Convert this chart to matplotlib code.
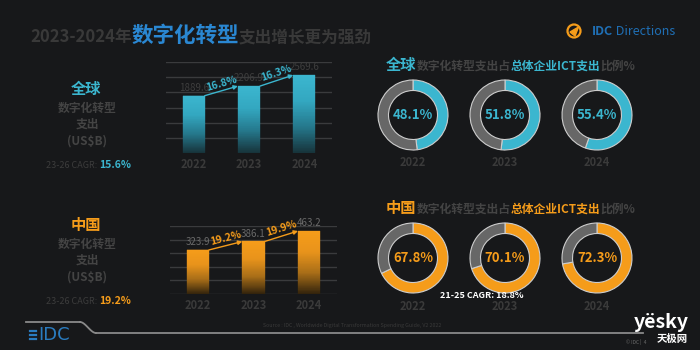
import numpy as np
import matplotlib
matplotlib.use("Agg")
from matplotlib import pyplot as plt
from matplotlib.colors import LinearSegmentedColormap
from matplotlib.patches import Circle, Polygon

plt.rcParams['font.family'] = ['Noto Sans CJK SC', 'DejaVu Sans']

# Datos
years = ['2022', '2023', '2024']
global_spend = [1889.6, 2206.9, 2569.6]
global_growth = [16.8, 16.3]
global_cagr = 15.6
china_spend = [323.9, 386.1, 463.2]
china_growth = [19.2, 19.9]
china_cagr = 19.2
global_share = [48.1, 51.8, 55.4]
china_share = [67.8, 70.1, 72.3]
china_share_cagr = 18.8

W, H = 700, 350
bg = '#17181a'
cyan = '#3bb6cf'
orange = '#f59c1a'
dim = '#444444'
grid_c = '#3a3b3d'

fig = plt.figure(figsize=(W / 100, H / 100), dpi=100, facecolor=bg)

# capa de fondo en pixeles (y hacia arriba)
ov = fig.add_axes([0, 0, 1, 1])
ov.set_facecolor(bg)


def Y(y):
    return H - y


def rect_px(x0, y_top, x1, y_bot):
    return [x0 / W, 1 - y_bot / H, (x1 - x0) / W, (y_bot - y_top) / H]


renderer = fig.canvas.get_renderer()


def seq_text(x, y, parts, **kw):
    # escribe varios trozos de texto seguidos en la misma linea base
    for s, color, size, weight in parts:
        t = ov.text(x, Y(y), s, color=color, fontsize=size, fontweight=weight,
                    ha='left', va='baseline', **kw)
        bb = t.get_window_extent(renderer)
        x += bb.width


# titulo
seq_text(30, 42, [('2023-2024年', '#393939', 12, 'bold'),
                  ('数字化转型', '#2a87d2', 15.5, 'bold'),
                  ('支出增长更为强劲', '#393939', 12, 'bold')])

# logo IDC Directions
ov.add_patch(Circle((574, Y(31)), 6.5, fill=False, ec=orange, lw=1.6))
ov.add_patch(Polygon([(570, Y(32)), (578.5, Y(27)), (575, Y(36))], closed=True, color=orange))
seq_text(592, 35, [('IDC', '#1f6fb5', 9, 'bold'), (' Directions', '#1f6fb5', 9, 'normal')])

# textos de la izquierda
for y0, name, col, cagr in [(89, '全球', cyan, global_cagr), (225, '中国', orange, china_cagr)]:
    ov.text(86, Y(y0), name, color=col, fontsize=11, fontweight='bold', ha='center', va='center')
    ov.text(87, Y(y0 + 19), '数字化转型', color=dim, fontsize=8.5, fontweight='bold', ha='center', va='center')
    ov.text(87, Y(y0 + 35), '支出', color=dim, fontsize=8.5, fontweight='bold', ha='center', va='center')
    ov.text(87, Y(y0 + 52), '(US$B)', color=dim, fontsize=8.5, fontweight='bold', ha='center', va='center')
    seq_text(46, y0 + 79, [('23-26 CAGR: ', '#3c3c3c', 6.5, 'normal'),
                           (f'{cagr}%', col, 7.5, 'bold')])


def draw_bars(rect, values, growth, colors, ymax, step, zero_line, val_color):
    ax = fig.add_axes(rect)
    ax.set_facecolor('none')
    x = np.arange(len(values))
    vals = np.array(values)
    start = 0 if zero_line else step
    for g in np.arange(start, ymax + 1, step):
        ax.axhline(g, color=grid_c, lw=1, zorder=0)
    # barras con degradado: se apilan franjas finas de abajo hacia arriba
    cmap = LinearSegmentedColormap.from_list('barra', colors)
    n = 100
    for k in range(n):
        c = cmap(k / (n - 1))
        ax.bar(x, vals / n, bottom=vals * k / n, width=0.4, color=c,
               edgecolor=c, linewidth=0.25, zorder=2)
    ax.set_xlim(-0.5, len(values) - 0.5)
    ax.set_ylim(0, ymax)
    for i, v in enumerate(values):
        ax.annotate(f'{v:.1f}', (i, v), xytext=(0, 2), textcoords='offset points',
                    ha='center', va='bottom', color=val_color, fontsize=7, zorder=3)
    # flechas de crecimiento
    col = colors[-1]
    for i, g in enumerate(growth):
        p0 = (i + 0.2, values[i])
        p1 = (i + 0.8, values[i + 1])
        ax.annotate('', xy=p1, xytext=p0,
                    arrowprops=dict(arrowstyle='-|>', color=col, lw=1, mutation_scale=6,
                                    shrinkA=0, shrinkB=0), zorder=4)
        d0 = ax.transData.transform(p0)
        d1 = ax.transData.transform(p1)
        ang = np.degrees(np.arctan2(d1[1] - d0[1], d1[0] - d0[0]))
        ax.annotate(f'{g}%', ((p0[0] + p1[0]) / 2, (p0[1] + p1[1]) / 2), xytext=(0, 5.5),
                    textcoords='offset points', ha='center', va='center', rotation=ang,
                    color=col, fontsize=7.5, fontweight='bold', zorder=5)
    ax.set_xticks(x, years)
    ax.set_yticks([])
    ax.tick_params(length=0, pad=3.5, labelsize=8, labelcolor='#3a3a3a')
    for lab in ax.get_xticklabels():
        lab.set_fontweight('bold')
    for s in ax.spines.values():
        s.set_visible(False)
    return ax


draw_bars(rect_px(166, 62, 332, 153), global_spend, global_growth,
          ['#17343b', '#25788c', '#33a7c0', cyan], 3000, 500, False, '#3e3e3e')
draw_bars(rect_px(170, 226, 337, 294), china_spend, china_growth,
          ['#33240c', '#a86e18', '#e8931b', orange], 500, 100, True, '#6a6a6a')

# anillos de participacion
centers_x = [413, 505, 597]
for cy, shares, col, name in [(115, global_share, cyan, '全球'), (258, china_share, orange, '中国')]:
    for cx, v, yr in zip(centers_x, shares, years):
        ov.pie([v, 100 - v], center=(cx, Y(cy)), radius=35, startangle=90, counterclock=False,
               colors=[col, '#676767'],
               wedgeprops=dict(width=10.5, edgecolor='#cdcdcd', linewidth=0.8))
        ov.text(cx, Y(cy), f'{v}%', color=col, fontsize=9.5, fontweight='bold',
                ha='center', va='center')
        ov.text(cx, Y(cy + 48), yr, color='#3a3a3a', fontsize=8, fontweight='bold',
                ha='center', va='center')
    seq_text(386, cy - 45, [(name, col, 11, 'bold'),
                            ('数字化转型支出占', dim, 8.5, 'bold'),
                            ('总体企业ICT支出', col, 8.5, 'bold'),
                            ('比例%', dim, 8.5, 'bold')])

ov.text(482, Y(296), f'21-25 CAGR: {china_share_cagr}%', color='white', fontsize=6.5,
        fontweight='bold', ha='center', va='center')

# pie de pagina
ov.plot([26, 80], [Y(322), Y(322)], color='#8a8a8a', lw=1.3)
t = np.linspace(0, 1, 20)
ov.plot(80 + 16 * t, Y(322 + 11 * (3 * t ** 2 - 2 * t ** 3)), color='#8a8a8a', lw=1.3)
ov.plot([96, 643], [Y(333), Y(333)], color='#8a8a8a', lw=1.3)
for dy in (-4, 0, 4):
    ov.plot([30, 36], [Y(335 + dy), Y(335 + dy)], color='#2a7cc0', lw=1.6)
ov.text(38, Y(335), 'IDC', color='#2a7cc0', fontsize=13, ha='left', va='center',
        family=['DejaVu Sans'])
ov.text(352, Y(325), 'Source : IDC , Worldwide Digital Transformation Spending Guide, V2 2022',
        color='#3a3a3a', fontsize=3.8, ha='center', va='center')
ov.text(636, Y(342), '© IDC |  4', color='#6a6a6a', fontsize=3.5, ha='center', va='center')
ov.text(661, Y(322), 'yësky', color='white', fontsize=14, fontweight='bold', ha='center', va='center')
ov.text(672, Y(339), '天极网', color='white', fontsize=7.5, fontweight='bold', ha='center', va='center')

ov.set_xlim(0, W)
ov.set_ylim(0, H)
ov.set_aspect('auto')
ov.axis('off')

fig.savefig('out.png', dpi=100, facecolor=bg)
